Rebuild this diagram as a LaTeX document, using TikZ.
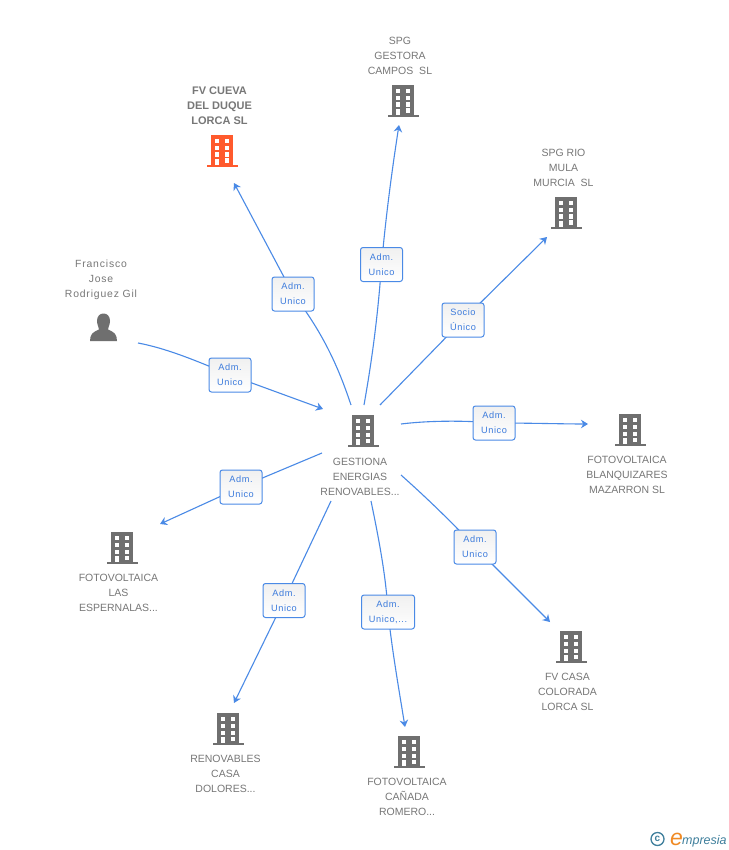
\documentclass[tikz,border=0pt]{standalone}
\usepackage{fontspec}
\setmainfont{Liberation Sans}
\newfontfamily\lblfont[LetterSpace=6]{Liberation Sans}
\newfontfamily\persfont[LetterSpace=8]{Liberation Sans}
\usetikzlibrary{arrows.meta}
\definecolor{txtgray}{HTML}{777777}
\definecolor{iconbody}{HTML}{6F6F6F}
\definecolor{hot}{HTML}{FF5A2D}
\definecolor{linkblue}{HTML}{4A8AE6}
\definecolor{lbltxt}{HTML}{3C7BDC}
\definecolor{teal}{HTML}{3F7F9C}
\definecolor{boxgrad}{HTML}{F0F0F0}
\definecolor{logoorange}{HTML}{F08A24}
\pgfdeclarelayer{bg}
\pgfsetlayers{bg,main}
\tikzset{
  pics/bldg/.style={code={
    \fill[#1] (-11,-17) rectangle (11,13);
    \fill[#1] (-15.5,13) rectangle (16,15);
    \fill[white] (-7.3,-13) rectangle (-2.8,-8.7);
    \fill[white] (2.5,-13) rectangle (7.2,-8.7);
    \fill[white] (-7.3,-6) rectangle (-2.8,-1.7);
    \fill[white] (2.5,-6) rectangle (7.2,-1.7);
    \fill[white] (-7.3,0.5) rectangle (-2.8,5);
    \fill[white] (2.5,0.5) rectangle (7.2,5);
    \fill[white] (-7.3,7) rectangle (-2.8,13);
    \fill[white] (2.5,6.5) rectangle (7.2,11);
  }},
  anchorpt/.style={inner sep=0pt,minimum size=0pt},
  caption/.style={font=\fontsize{10.5}{15}\selectfont,text=txtgray,align=center,inner sep=0pt},
  hotcaption/.style={caption,font=\fontsize{11}{15}\selectfont\bfseries},
  lbl/.style={draw=linkblue,line width=1pt,rounded corners=2.5pt,top color=boxgrad,bottom color=white,
    text=lbltxt,font=\lblfont\fontsize{9.2}{15}\selectfont,align=center,inner sep=0pt,text width=42pt,minimum height=34pt},
  link/.style={draw=linkblue,line width=1.1pt},
  tip/.style={link,-{Stealth[length=7pt,width=8.5pt]}},
}
\begin{document}
\begin{tikzpicture}[x=1pt,y=-1pt]
\useasboundingbox (0,0) rectangle (728,850);
\begin{pgfonlayer}{bg}
\fill[white] (0,0) rectangle (728,850);
\end{pgfonlayer}

% anchors for the icons
\node[anchorpt] (hub) at (363,432) {};
\node[anchorpt] (cueva) at (222,152) {};
\node[anchorpt] (gestora) at (403,102) {};
\node[anchorpt] (rio) at (566,214) {};
\node[anchorpt] (blanq) at (630,431) {};
\node[anchorpt] (colorada) at (571,648) {};
\node[anchorpt] (canada) at (409,753) {};
\node[anchorpt] (dolores) at (228,730) {};
\node[anchorpt] (esper) at (122,549) {};
\node[anchorpt] (person) at (104,327) {};

% connector ends
\coordinate (a1) at (138,343); \coordinate (b1) at (323,409);
\coordinate (a2) at (351,405); \coordinate (b2) at (234,183);
\coordinate (a3) at (364,405); \coordinate (b3) at (399,125);
\coordinate (a4) at (380,405); \coordinate (b4) at (547,237);
\coordinate (a5) at (401,424); \coordinate (b5) at (588,424);
\coordinate (a6) at (401,475); \coordinate (b6) at (550,622);
\coordinate (a7) at (371,501); \coordinate (b7) at (405,727);
\coordinate (a8) at (331,501); \coordinate (b8) at (234,703);
\coordinate (a9) at (322,453); \coordinate (b9) at (160,524);

% label boxes
\node[lbl] (l1) at (230,375) {Adm.\\Unico};
\node[lbl] (l2) at (293,294) {Adm.\\Unico};
\node[lbl] (l3) at (381.5,264.5) {Adm.\\Unico};
\node[lbl] (l4) at (463,320) {Socio\\Único};
\node[lbl] (l5) at (494,423) {Adm.\\Unico};
\node[lbl] (l6) at (475,547) {Adm.\\Unico};
\node[lbl,text width=53pt] (l7) at (388,612) {Adm.\\Unico,...};
\node[lbl] (l8) at (284,600.5) {Adm.\\Unico};
\node[lbl] (l9) at (241,487) {Adm.\\Unico};

% connectors
\begin{pgfonlayer}{bg}
\draw[link] (a1) .. controls (165,348) and (195,360) .. (l1.center);
\draw[tip] (l1.center) -- (b1);
\draw[link] (a2) .. controls (340,372) and (325,335) .. (l2.center);
\draw[tip] (l2.center) -- (b2);
\draw[link] (a3) .. controls (372,360) and (378,315) .. (l3.center);
\draw[tip] (l3.center) .. controls (386,215) and (392,170) .. (b3);
\draw[link] (a4) -- (l4.center);
\draw[tip] (l4.center) -- (b4);
\draw[link] (a5) .. controls (425,421) and (460,420) .. (l5.center);
\draw[tip] (l5.center) .. controls (530,423) and (565,424) .. (b5);
\draw[link] (a6) .. controls (420,492) and (445,515) .. (l6.center);
\draw[tip] (l6.center) -- (b6);
\draw[link] (a7) .. controls (378,535) and (386,575) .. (l7.center);
\draw[tip] (l7.center) .. controls (392,650) and (399,690) .. (b7);
\draw[link] (a8) -- (l8.center);
\draw[tip] (l8.center) -- (b8);
\draw[link] (a9) -- (l9.center);
\draw[tip] (l9.center) -- (b9);
\end{pgfonlayer}

% icons
\pic at (hub) {bldg=iconbody};
\pic at (cueva) {bldg=hot};
\pic at (gestora) {bldg=iconbody};
\pic at (rio) {bldg=iconbody};
\pic at (blanq) {bldg=iconbody};
\pic at (colorada) {bldg=iconbody};
\pic at (canada) {bldg=iconbody};
\pic at (dolores) {bldg=iconbody};
\pic at (esper) {bldg=iconbody};
\fill[iconbody] (90,341) .. controls (90,334) and (93,332) .. (99,329.5)
  .. controls (99,327) and (97,325) .. (97,321) .. controls (97,316) and (100,313.5) .. (103.5,313.5)
  .. controls (107,313.5) and (110,316) .. (110,321) .. controls (110,325) and (108,327) .. (108,329.5)
  .. controls (114,332) and (117,334) .. (117,341) -- cycle;

% names
\node[hotcaption] (tcueva) at (219.5,105.5) {FV CUEVA\\DEL DUQUE\\LORCA SL};
\node[caption] (tgestora) at (400,56) {SPG\\GESTORA\\CAMPOS\ \ SL};
\node[caption] (trio) at (563.5,168) {SPG RIO\\MULA\\MURCIA\ \ SL};
\node[caption,font=\persfont\fontsize{10.4}{15}\selectfont] (tperson) at (101,280) {Francisco\\Jose\\Rodriguez Gil};
\node[caption] (thub) at (360,476.5) {GESTIONA\\ENERGIAS\\RENOVABLES...};
\node[caption] (tblanq) at (627,475) {FOTOVOLTAICA\\BLANQUIZARES\\MAZARRON SL};
\node[caption] (tcolorada) at (567.5,692) {FV CASA\\COLORADA\\LORCA SL};
\node[caption] (tcanada) at (407,797) {FOTOVOLTAICA\\CAÑADA\\ROMERO...};
\node[caption] (tdolores) at (225.5,774) {RENOVABLES\\CASA\\DOLORES...};
\node[caption] (tesper) at (118.5,593) {FOTOVOLTAICA\\LAS\\ESPERNALAS...};

% logo
\node[draw=teal,circle,line width=1.3pt,minimum size=13pt,inner sep=0pt,text=teal,font=\fontsize{10}{10}\selectfont\bfseries] (copy) at (657.5,839) {c};
\node[inner sep=0pt,anchor=base west,text=logoorange,font=\fontsize{23}{23}\selectfont\itshape] (ee) at (670,845) {e};
\node[inner sep=0pt,anchor=base west,text=teal,font=\fontsize{12.5}{13}\selectfont\itshape] (mp) at (682,844) {mpresia};
\end{tikzpicture}
\end{document}
